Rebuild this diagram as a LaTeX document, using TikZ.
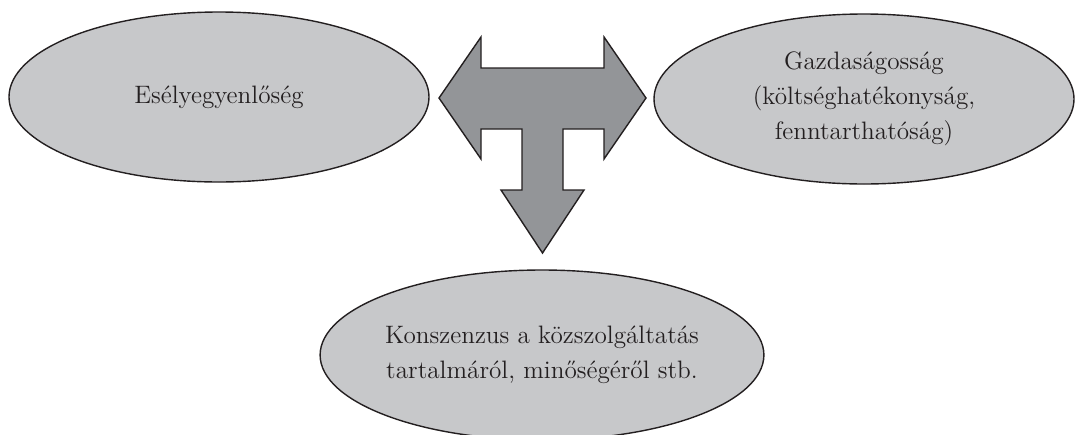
\documentclass[tikz,border=0pt]{standalone}
\usepackage{fontspec}
\usetikzlibrary{positioning,shapes.geometric}

\definecolor{ovalgray}{HTML}{C7C8CA}
\definecolor{arrowgray}{HTML}{939598}
\definecolor{inkdark}{HTML}{231F20}

\begin{document}
\begin{tikzpicture}[
  x=0.5pt, y=-0.5pt,
  oval/.style  = {ellipse, draw=inkdark, line width=0.7pt, fill=ovalgray, text=inkdark,
                  minimum width=210pt, minimum height=85pt, inner sep=0pt,
                  align=center, font=\fontsize{12.6}{17.5}\selectfont},
  bigarr/.style= {draw=inkdark, line width=0.7pt, fill=arrowgray, line join=miter}
]
\useasboundingbox (0,0) rectangle (1080,434);

% ================= Goals =================
\node[oval] (esely) at (219,97)  {Esélyegyenlőség};
\node[oval] (gazd)  at (864,99)  {Gazdaságosság\\(költséghatékonyság,\\fenntarthatóság)};
\node[oval] (konsz) at (542,355) {Konszenzus a közszolgáltatás\\tartalmáról, minőségéről stb.};

% ================= T-shaped arrow =================
\draw[bigarr] (439,98) -- (481,37) -- (481,68) -- (604,68) -- (604,37) -- (646,98)
  -- (604,159) -- (604,129) -- (563,129) -- (563,190) -- (584,190) -- (542.5,253)
  -- (501,190) -- (522,190) -- (522,129) -- (481,129) -- (481,159) -- cycle;

\end{tikzpicture}
\end{document}
